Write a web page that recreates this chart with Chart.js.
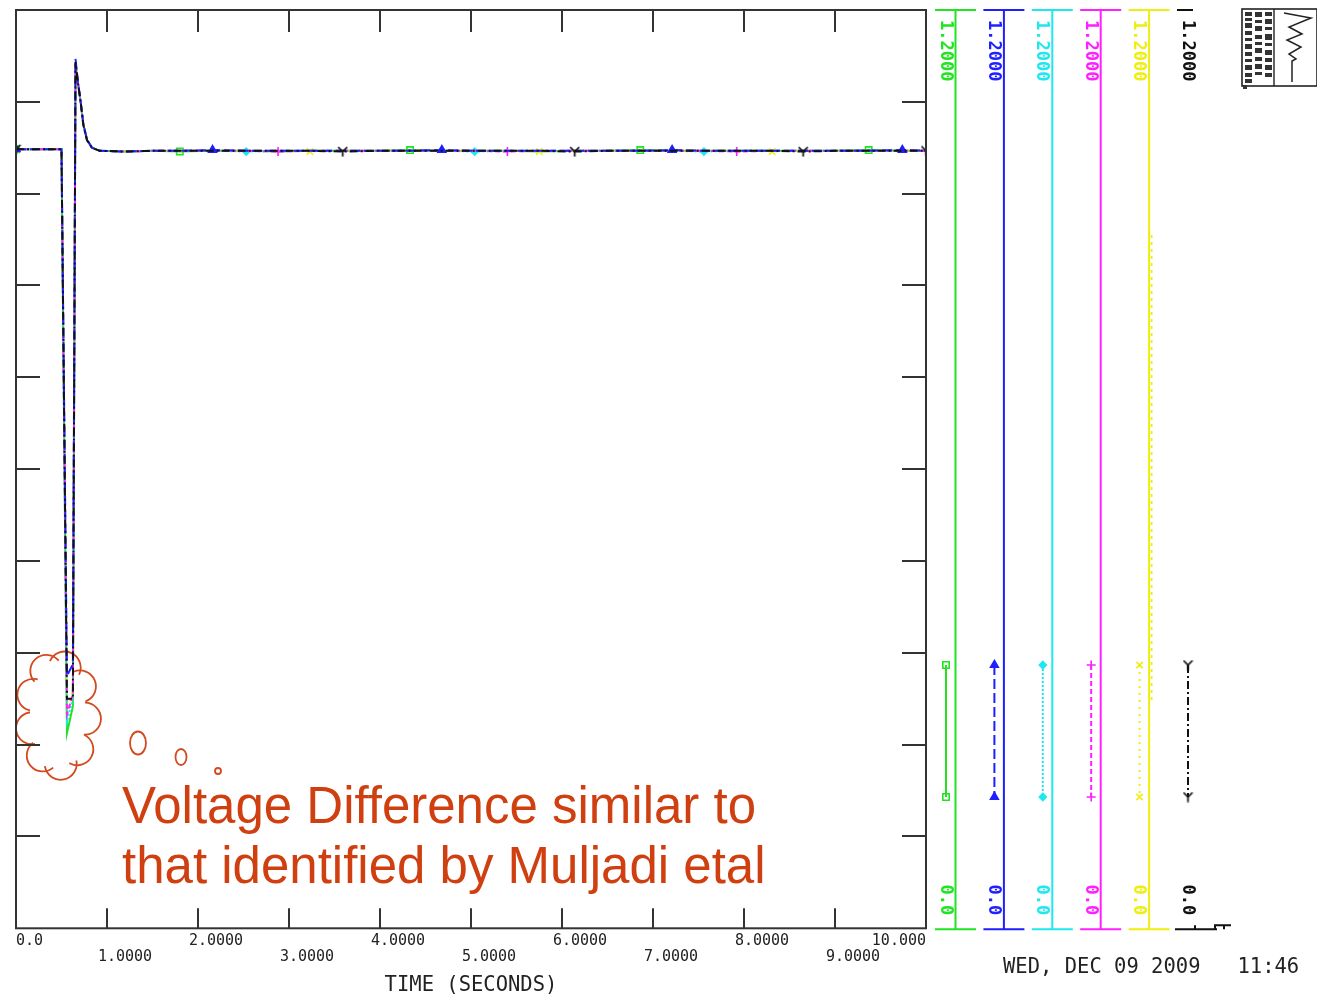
<!DOCTYPE html>
<html>
<head>
<meta charset="utf-8">
<script src="https://cdn.jsdelivr.net/npm/chart.js@4/dist/chart.umd.min.js"></script>
<style>
  html, body { margin: 0; padding: 0; background: #fff; }
  #wrap { position: relative; width: 1317px; height: 995px; overflow: hidden; }
  #logo { position: absolute; left: 1241px; top: 8px; }
</style>
</head>
<body>
<div id="wrap">
  <canvas id="c" width="1317" height="995"></canvas>
  <svg id="logo" width="78" height="82" viewBox="0 0 78 82">
    <rect x="1" y="1" width="75" height="77" fill="#fff" stroke="#222" stroke-width="1.6"/>
    <line x1="33" y1="1" x2="33" y2="78" stroke="#222" stroke-width="1.4"/>
    <g fill="#333">
      <rect x="4" y="4" width="7" height="4"/><rect x="4" y="10" width="7" height="3"/><rect x="4" y="15" width="7" height="5"/>
      <rect x="4" y="23" width="7" height="4"/><rect x="4" y="30" width="7" height="3"/><rect x="4" y="36" width="7" height="5"/>
      <rect x="4" y="44" width="7" height="4"/><rect x="4" y="51" width="7" height="3"/><rect x="4" y="57" width="7" height="5"/>
      <rect x="4" y="65" width="7" height="4"/><rect x="4" y="71" width="7" height="4"/>
      <rect x="14" y="4" width="7" height="5"/><rect x="14" y="12" width="7" height="3"/><rect x="14" y="18" width="7" height="5"/>
      <rect x="14" y="27" width="7" height="4"/><rect x="14" y="34" width="7" height="3"/><rect x="14" y="40" width="7" height="5"/>
      <rect x="14" y="49" width="7" height="4"/><rect x="14" y="56" width="7" height="5"/><rect x="14" y="64" width="7" height="3"/>
      <rect x="24" y="4" width="7" height="4"/><rect x="24" y="11" width="7" height="5"/><rect x="24" y="19" width="7" height="3"/>
      <rect x="24" y="26" width="7" height="6"/><rect x="24" y="35" width="7" height="3"/><rect x="24" y="42" width="7" height="5"/>
      <rect x="24" y="50" width="7" height="4"/><rect x="24" y="57" width="7" height="5"/><rect x="24" y="65" width="7" height="4"/>
      <rect x="2" y="77" width="4" height="4"/>
    </g>
    <polyline points="43,5 70,10 48,19 61,26 46,32 60,39 48,46 55,51 51,53 51,74" fill="none" stroke="#222" stroke-width="1.5"/>
  </svg>
</div>
<script>
// Six voltage channels (pu) versus simulation time (s).
const timeSec = [0, 0.25, 0.5, 0.56, 0.625, 0.654, 0.681, 0.71, 0.74, 0.78, 0.835, 0.92, 1.2, 1.5,
  1.80, 2.16, 2.53, 2.88, 3.23, 3.59, 4.0, 4.33, 4.68, 5.04, 5.40, 5.75, 6.14, 6.5,
  6.86, 7.21, 7.56, 7.92, 8.31, 8.65, 9.0, 9.37, 9.74, 10.0];

const voltGreen   = [1.018, 1.018, 1.018, 0.255, 0.290, 1.130, 1.104, 1.080, 1.050, 1.030, 1.020, 1.016, 1.015, 1.016,
  1.015, 1.016, 1.016, 1.015, 1.016, 1.016, 1.016, 1.017, 1.016, 1.016, 1.016, 1.015, 1.016, 1.016,
  1.017, 1.016, 1.016, 1.016, 1.016, 1.016, 1.016, 1.017, 1.016, 1.016];
const voltBlue    = [1.018, 1.018, 1.018, 0.330, 0.345, 1.136, 1.106, 1.081, 1.051, 1.031, 1.020, 1.016, 1.015, 1.016,
  1.016, 1.017, 1.016, 1.016, 1.016, 1.016, 1.016, 1.016, 1.017, 1.016, 1.016, 1.016, 1.016, 1.016,
  1.016, 1.017, 1.016, 1.016, 1.016, 1.016, 1.016, 1.016, 1.017, 1.016];
const voltCyan    = [1.018, 1.018, 1.018, 0.270, 0.300, 1.131, 1.105, 1.080, 1.050, 1.030, 1.020, 1.016, 1.015, 1.016,
  1.016, 1.016, 1.015, 1.016, 1.016, 1.016, 1.016, 1.016, 1.016, 1.015, 1.016, 1.016, 1.016, 1.016,
  1.016, 1.016, 1.015, 1.016, 1.016, 1.016, 1.016, 1.016, 1.016, 1.016];
const voltMagenta = [1.018, 1.018, 1.018, 0.280, 0.305, 1.130, 1.104, 1.080, 1.050, 1.030, 1.020, 1.016, 1.015, 1.016,
  1.016, 1.016, 1.016, 1.015, 1.016, 1.016, 1.016, 1.016, 1.016, 1.016, 1.015, 1.016, 1.016, 1.016,
  1.016, 1.016, 1.016, 1.015, 1.016, 1.016, 1.016, 1.016, 1.016, 1.016];
const voltYellow  = [1.018, 1.018, 1.018, 0.285, 0.310, 1.129, 1.104, 1.079, 1.050, 1.030, 1.020, 1.016, 1.015, 1.016,
  1.016, 1.016, 1.016, 1.016, 1.015, 1.016, 1.016, 1.016, 1.016, 1.016, 1.016, 1.015, 1.016, 1.016,
  1.016, 1.016, 1.016, 1.016, 1.015, 1.016, 1.016, 1.016, 1.016, 1.016];
const voltBlack   = [1.018, 1.018, 1.018, 0.300, 0.300, 1.132, 1.105, 1.080, 1.050, 1.030, 1.020, 1.016, 1.015, 1.016,
  1.016, 1.016, 1.016, 1.016, 1.016, 1.015, 1.016, 1.016, 1.016, 1.016, 1.016, 1.016, 1.015, 1.016,
  1.016, 1.016, 1.016, 1.016, 1.016, 1.015, 1.016, 1.016, 1.016, 1.016];

// Times at which each channel carries its identifying symbol.
const markGreen   = [0, 1.80, 4.33, 6.86, 9.37];
const markBlue    = [0, 2.16, 4.68, 7.21, 9.74];
const markCyan    = [0, 2.53, 5.04, 7.56];
const markMagenta = [0, 2.88, 5.40, 7.92];
const markYellow  = [0, 3.23, 5.75, 8.31];
const markBlack   = [0, 3.59, 6.14, 8.65, 10.0];

const xTickLabels = ['0.0', '1.0000', '2.0000', '3.0000', '4.0000', '5.0000', '6.0000', '7.0000', '8.0000', '9.0000', '10.000'];
const channelRangeLabels = ['0.0', '1.2000'];
const annotationLines = ['Voltage Difference similar to', 'that identified by Muljadi etal'];
const stampText = 'WED, DEC 09 2009   11:46';

const MONO = '"DejaVu Sans Mono", "Liberation Mono", monospace';

// "Y" shaped symbol for the black channel
function yGlyph(color) {
  const c = document.createElement('canvas');
  c.width = 11; c.height = 11;
  const g = c.getContext('2d');
  g.strokeStyle = color; g.lineWidth = 1.7;
  g.beginPath();
  g.moveTo(1, 1); g.lineTo(5.5, 5.5); g.lineTo(10, 1);
  g.moveTo(5.5, 5.5); g.lineTo(5.5, 10.5);
  g.stroke();
  return c;
}

const toPoints = vals => timeSec.map((t, i) => ({ x: t, y: vals[i] }));

function channel(label, vals, marks, color, dash, style, radius, fill, order) {
  return {
    label, order,
    data: toPoints(vals),
    borderColor: color,
    borderWidth: 2,
    borderDash: dash,
    backgroundColor: fill,
    pointStyle: style,
    pointBorderColor: color,
    pointBackgroundColor: fill,
    pointBorderWidth: 1.6,
    pointRadius: c => (c.raw && marks.includes(c.raw.x)) ? radius : 0,
    markerRadius: radius,
    tension: 0,
    fill: false
  };
}

const datasets = [
  channel('Channel 1', voltGreen,   markGreen,   '#22e322', [],            'rect',      4.5, 'rgba(255,255,255,0)', 5),
  channel('Channel 2', voltBlue,    markBlue,    '#1f1fff', [10, 4],       'triangle',  4.5, '#1f1fff', 1),
  channel('Channel 3', voltCyan,    markCyan,    '#1ee8ee', [2, 2],        'rectRot',   3.5, '#1ee8ee', 3),
  channel('Channel 4', voltMagenta, markMagenta, '#ff20ff', [5, 3],        'cross',     4.5, '#ff20ff', 2),
  channel('Channel 5', voltYellow,  markYellow,  '#eeee10', [2, 5],        'crossRot',  4.5, '#eeee10', 4),
  channel('Channel 6', voltBlack,   markBlack,   '#111111', [8, 3, 2, 3],  yGlyph('#111111'), 5, '#111111', 0)
];

function fallbackPoint(ctx, opts, x, y) {
  ctx.beginPath(); ctx.arc(x, y, opts.radius, 0, Math.PI * 2); ctx.stroke();
}
const drawPoint = (Chart.helpers && Chart.helpers.drawPoint) ? Chart.helpers.drawPoint : fallbackPoint;

// Frame, inward ticks, per-channel scale strips, note and time stamp
const plotDecor = {
  id: 'plotDecor',
  beforeDatasetsDraw(chart) {
    const ctx = chart.ctx;
    ctx.save();
    // cloud outline around the fault dip
    ctx.strokeStyle = '#d24a1e';
    ctx.lineWidth = 1.8;
    const cx = 58, cy = 715, rx = 27, ry = 49, r = 16, n = 9;
    for (let i = 0; i < n; i++) {
      const th = -Math.PI / 2 + i * 2 * Math.PI / n + 0.25;
      const px = cx + rx * Math.cos(th), py = cy + ry * Math.sin(th);
      const out = Math.atan2(Math.sin(th) * rx, Math.cos(th) * ry);
      ctx.beginPath();
      ctx.arc(px, py, r, out - 1.6, out + 1.6);
      ctx.stroke();
    }
    // thought bubbles
    ctx.beginPath(); ctx.ellipse(138, 743, 8, 11.5, 0, 0, Math.PI * 2); ctx.stroke();
    ctx.beginPath(); ctx.ellipse(181, 757, 5.5, 8, 0, 0, Math.PI * 2); ctx.stroke();
    ctx.beginPath(); ctx.ellipse(218, 771, 3, 3, 0, 0, Math.PI * 2); ctx.stroke();
    // note text
    ctx.fillStyle = '#cf3f10';
    ctx.font = '51px "Liberation Sans", Arial, sans-serif';
    ctx.textBaseline = 'alphabetic';
    ctx.textAlign = 'left';
    ctx.fillText(annotationLines[0], 122, 823);
    ctx.fillText(annotationLines[1], 122, 883);
    ctx.restore();
  },
  afterDraw(chart) {
    const { ctx, chartArea: a, scales } = chart;
    const xs = scales.x, ys = scales.y;
    ctx.save();
    ctx.strokeStyle = '#333';
    ctx.lineWidth = 2;
    ctx.setLineDash([]);
    ctx.strokeRect(a.left, a.top, a.right - a.left, a.bottom - a.top);
    ctx.beginPath();
    xs.ticks.forEach(t => {
      if (t.value <= xs.min || t.value >= xs.max) return;
      const px = Math.round(xs.getPixelForValue(t.value));
      ctx.moveTo(px, a.bottom); ctx.lineTo(px, a.bottom - 20);
      ctx.moveTo(px, a.top); ctx.lineTo(px, a.top + 22);
    });
    ys.ticks.forEach(t => {
      if (t.value <= ys.min + 1e-9 || t.value >= ys.max - 1e-9) return;
      const py = Math.round(ys.getPixelForValue(t.value));
      ctx.moveTo(a.left, py); ctx.lineTo(a.left + 24, py);
      ctx.moveTo(a.right, py); ctx.lineTo(a.right - 24, py);
    });
    ctx.stroke();

    // scale strips, one per channel
    const top = a.top, bot = a.bottom + 1;
    const legTop = 665, legBot = 797;
    chart.data.datasets.forEach((ds, i) => {
      const x0 = a.right + 9 + i * 48.4;
      const col = ds.borderColor;
      const isLast = i === chart.data.datasets.length - 1;
      ctx.strokeStyle = col;
      ctx.lineWidth = 2;
      ctx.setLineDash([]);
      ctx.beginPath();
      if (!isLast) {
        ctx.moveTo(x0, top); ctx.lineTo(x0 + 41, top);
        ctx.moveTo(x0, bot); ctx.lineTo(x0 + 41, bot);
        ctx.moveTo(x0 + 20.5, top); ctx.lineTo(x0 + 20.5, bot);
      } else {
        ctx.moveTo(x0, top); ctx.lineTo(x0 + 16, top);
        ctx.moveTo(x0 - 2, bot); ctx.lineTo(x0 + 40, bot);
        ctx.moveTo(x0 + 18, bot); ctx.lineTo(x0 + 18, bot - 4);
        ctx.moveTo(x0 + 38, bot); ctx.lineTo(x0 + 38, bot - 4); ctx.lineTo(x0 + 54, bot - 4);
        ctx.moveTo(x0 + 47, bot - 4); ctx.lineTo(x0 + 47, bot);
      }
      ctx.stroke();
      if (i === 4) {
        ctx.lineWidth = 1.8;
        ctx.setLineDash([3, 4]);
        ctx.beginPath();
        ctx.moveTo(x0 + 23, 235); ctx.lineTo(x0 + 23, 700);
        ctx.stroke();
      }

      // range labels, reading downward
      ctx.fillStyle = col;
      ctx.font = 'bold 17px ' + MONO;
      ctx.textBaseline = 'middle';
      ctx.textAlign = 'left';
      ctx.save();
      ctx.translate(x0 + 10, top + 10);
      ctx.rotate(Math.PI / 2);
      ctx.fillText(channelRangeLabels[1], 0, 0);
      ctx.restore();
      ctx.save();
      ctx.translate(x0 + 10, bot - 14);
      ctx.rotate(Math.PI / 2);
      ctx.textAlign = 'right';
      ctx.fillText(channelRangeLabels[0], 0, 0);
      ctx.restore();

      // line-style key
      const lx = x0 + 11;
      ctx.lineWidth = ds.borderWidth;
      ctx.setLineDash(ds.borderDash);
      ctx.beginPath();
      ctx.moveTo(lx, legTop); ctx.lineTo(lx, legBot);
      ctx.stroke();
      ctx.setLineDash([]);
      ctx.lineWidth = ds.pointBorderWidth;
      ctx.strokeStyle = col;
      ctx.fillStyle = ds.pointBackgroundColor;
      const po = { pointStyle: ds.pointStyle, radius: ds.markerRadius, rotation: 0, borderWidth: ds.pointBorderWidth };
      drawPoint(ctx, po, lx, legTop);
      drawPoint(ctx, po, lx, legBot);
    });

    // time stamp
    ctx.fillStyle = '#222';
    ctx.font = '20.5px ' + MONO;
    ctx.textAlign = 'left';
    ctx.textBaseline = 'middle';
    ctx.fillText(stampText, 1003, 968);
    ctx.restore();
  }
};

new Chart(document.getElementById('c'), {
  type: 'line',
  data: { datasets },
  options: {
    responsive: false,
    animation: false,
    devicePixelRatio: 1,
    events: [],
    layout: { padding: { left: 16, top: 10, right: 391, bottom: -3 } },
    plugins: { legend: { display: false }, tooltip: { enabled: false } },
    scales: {
      x: {
        type: 'linear', min: 0, max: 10,
        grid: { display: false, drawTicks: false },
        border: { display: false },
        ticks: {
          stepSize: 1, autoSkip: false, maxRotation: 0, minRotation: 0,
          align: 'inner', padding: 5, color: '#222',
          font: { family: MONO, size: 15, lineHeight: 1.07 },
          callback: (v, i) => {
            const s = xTickLabels[i];
            const padded = (i === 0 || i === xTickLabels.length - 1) ? s : '    ' + s;
            return i % 2 === 0 ? padded : ['', padded];
          }
        },
        title: {
          display: true, text: 'TIME (SECONDS)', color: '#222',
          font: { family: MONO, size: 20.5, lineHeight: 1.2 },
          padding: { top: 3, bottom: 0 }
        }
      },
      y: {
        type: 'linear', min: 0, max: 1.2, display: false,
        ticks: { count: 11 }
      }
    }
  },
  plugins: [plotDecor]
});
</script>
</body>
</html>
